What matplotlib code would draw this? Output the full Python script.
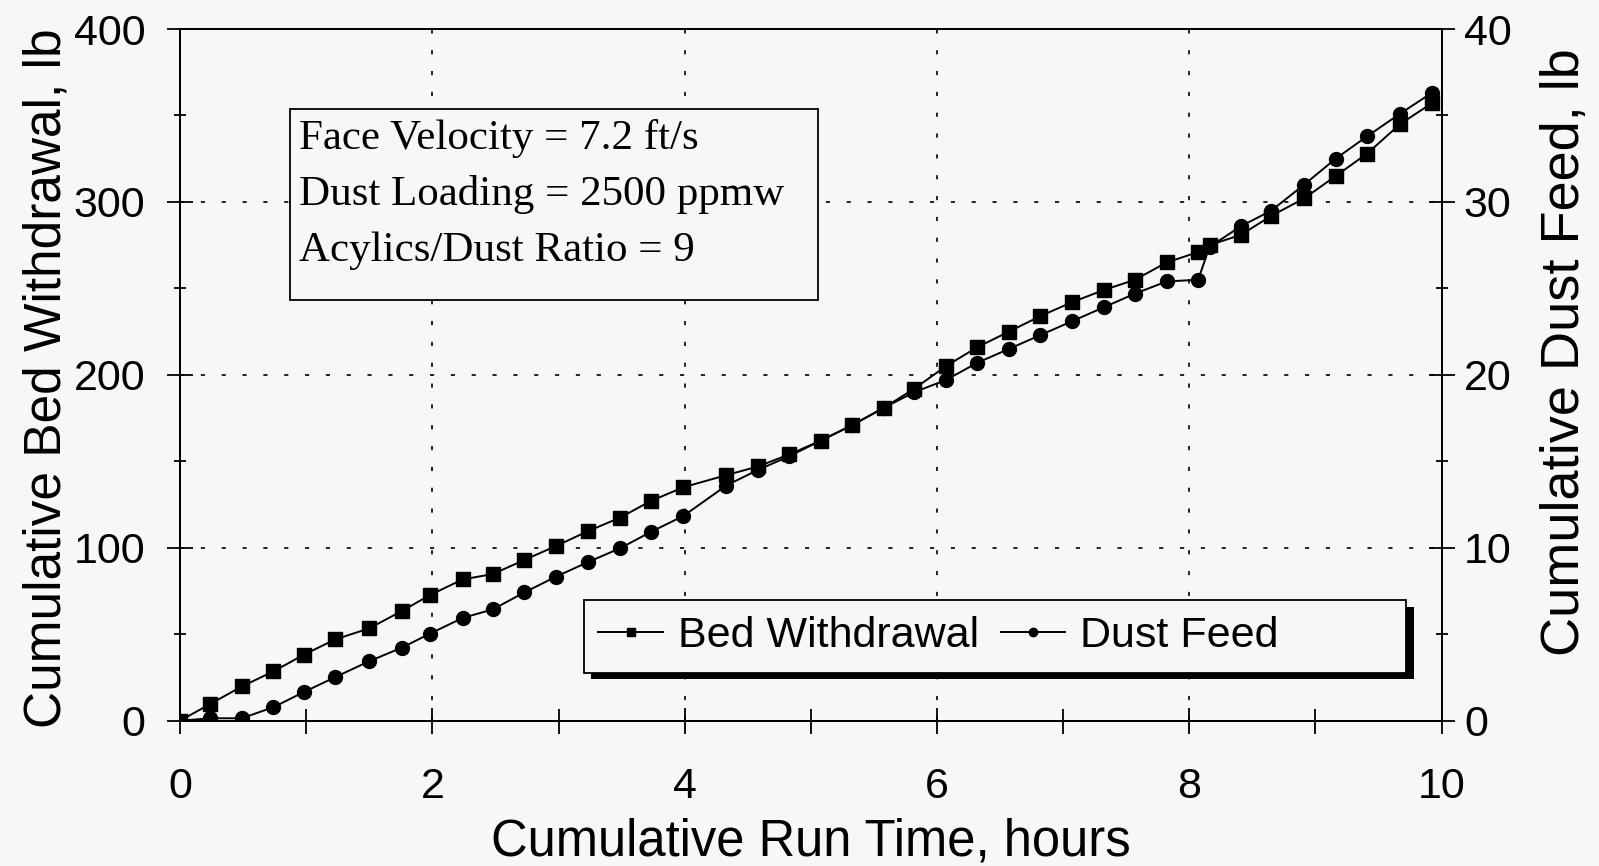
import matplotlib.pyplot as plt
from matplotlib.patches import Rectangle
from matplotlib.ticker import MultipleLocator

# Data
run_time = [0, 0.24, 0.49, 0.74, 0.98, 1.23, 1.50, 1.76, 1.98, 2.24, 2.48, 2.73, 2.98, 3.23,
            3.49, 3.73, 3.99, 4.33, 4.58, 4.83, 5.08, 5.33, 5.58, 5.82, 6.07, 6.32, 6.57,
            6.82, 7.07, 7.32, 7.57, 7.82, 8.07, 8.16, 8.41, 8.65, 8.91, 9.16, 9.41, 9.67, 9.92]
bed_withdrawal = [0, 9.7, 19.8, 28.5, 38.1, 47, 53.4, 63.5, 72.6, 81.7, 84.8, 93, 101, 109.5,
                  117.5, 127, 135, 142, 147, 154, 162, 171, 181, 192, 205, 216, 225,
                  234, 242, 249, 255, 265, 271, 275, 281, 292, 302, 315, 328, 345, 357]
dust_feed = [0, 0.14, 0.14, 0.78, 1.65, 2.52, 3.44, 4.23, 5.03, 5.94, 6.44, 7.42, 8.33, 9.16,
             9.98, 10.91, 11.84, 13.6, 14.5, 15.3, 16.2, 17.1, 18.1, 19.0, 19.7, 20.7, 21.5,
             22.3, 23.1, 23.9, 24.7, 25.4, 25.5, 27.4, 28.6, 29.5, 31.0, 32.5, 33.8, 35.1, 36.3]
info_lines = ["Face Velocity = 7.2 ft/s", "Dust Loading = 2500 ppmw", "Acylics/Dust Ratio = 9"]

bg = '#f7f7f7'
sans = 'Liberation Sans'
serif = 'Liberation Serif'

fig = plt.figure(figsize=(15.99, 8.66), dpi=100, facecolor=bg)
ax = fig.add_axes([0.1126, 0.1678, 0.789, 0.7987])
ax.set_facecolor(bg)
ax2 = ax.twinx()

l1, = ax.plot(run_time, bed_withdrawal, color='black', lw=1.4, marker='s', ms=10,
              label='Bed Withdrawal')
l2, = ax2.plot(run_time, dust_feed, color='black', lw=1.4, marker='o', ms=10,
               label='Dust Feed')

ax.set_xlim(0, 10)
ax.set_ylim(0, 400)
ax2.set_ylim(0, 40)

ax.xaxis.set_major_locator(MultipleLocator(2))
ax.xaxis.set_minor_locator(MultipleLocator(1))
ax.yaxis.set_major_locator(MultipleLocator(100))
ax.yaxis.set_minor_locator(MultipleLocator(50))
ax2.yaxis.set_major_locator(MultipleLocator(10))
ax2.yaxis.set_minor_locator(MultipleLocator(5))

ax.grid(True, which='major', color='black', linestyle=(0, (2.5, 10)), lw=1.2)

for a in (ax, ax2):
    for s in a.spines.values():
        s.set_linewidth(1.4)
    a.tick_params(which='both', direction='inout', width=1.3, labelsize=31)
    a.tick_params(which='major', length=19)
    a.tick_params(which='minor', length=9)
    for lab in a.get_xticklabels() + a.get_yticklabels():
        lab.set_fontfamily(sans)
ax.tick_params(axis='x', which='minor', length=18)
ax.tick_params(axis='x', which='both', pad=24)
ax.tick_params(axis='y', which='both', pad=15.5)
ax2.tick_params(axis='y', which='both', pad=6.5)

ax.set_xlabel('Cumulative Run Time, hours', fontsize=36.5, family=sans)
ax.xaxis.set_label_coords(0.5, -0.14)
ax.set_ylabel('Cumulative Bed Withdrawal, lb', fontsize=37, family=sans)
ax.yaxis.set_label_coords(-0.086, 0.495)
ax2.set_ylabel('Cumulative Dust Feed, lb', fontsize=39, family=sans)
ax2.yaxis.set_label_coords(1.078, 0.533)

# info box
ax2.add_patch(Rectangle((0.087, 0.608), 0.419, 0.277, transform=ax.transAxes,
                        facecolor=bg, edgecolor='black', lw=1.3, zorder=5))
for i, line in enumerate(info_lines):
    ax2.text(0.0946, 0.842 - i * 0.081, line, transform=ax.transAxes, fontsize=31,
             family=serif, va='center', ha='left', zorder=6)

# legend box with shadow
ax2.add_patch(Rectangle((0.3257, 0.0596), 0.652, 0.1054, transform=ax.transAxes,
                        facecolor='black', edgecolor='none', zorder=5))
ax2.add_patch(Rectangle((0.320, 0.0693), 0.652, 0.1054, transform=ax.transAxes,
                        facecolor=bg, edgecolor='black', lw=1.3, zorder=6))
leg = ax2.legend(handles=[l1, l2], loc='center left', bbox_to_anchor=(0.3316, 0.122),
                 ncol=2, prop={'family': sans, 'size': 31}, frameon=False,
                 handlelength=1.5, handletextpad=0.35, columnspacing=0.5,
                 borderpad=0, borderaxespad=0, markerscale=0.6)
leg.set_zorder(7)

fig.savefig('out.png', dpi=100, facecolor=bg)
